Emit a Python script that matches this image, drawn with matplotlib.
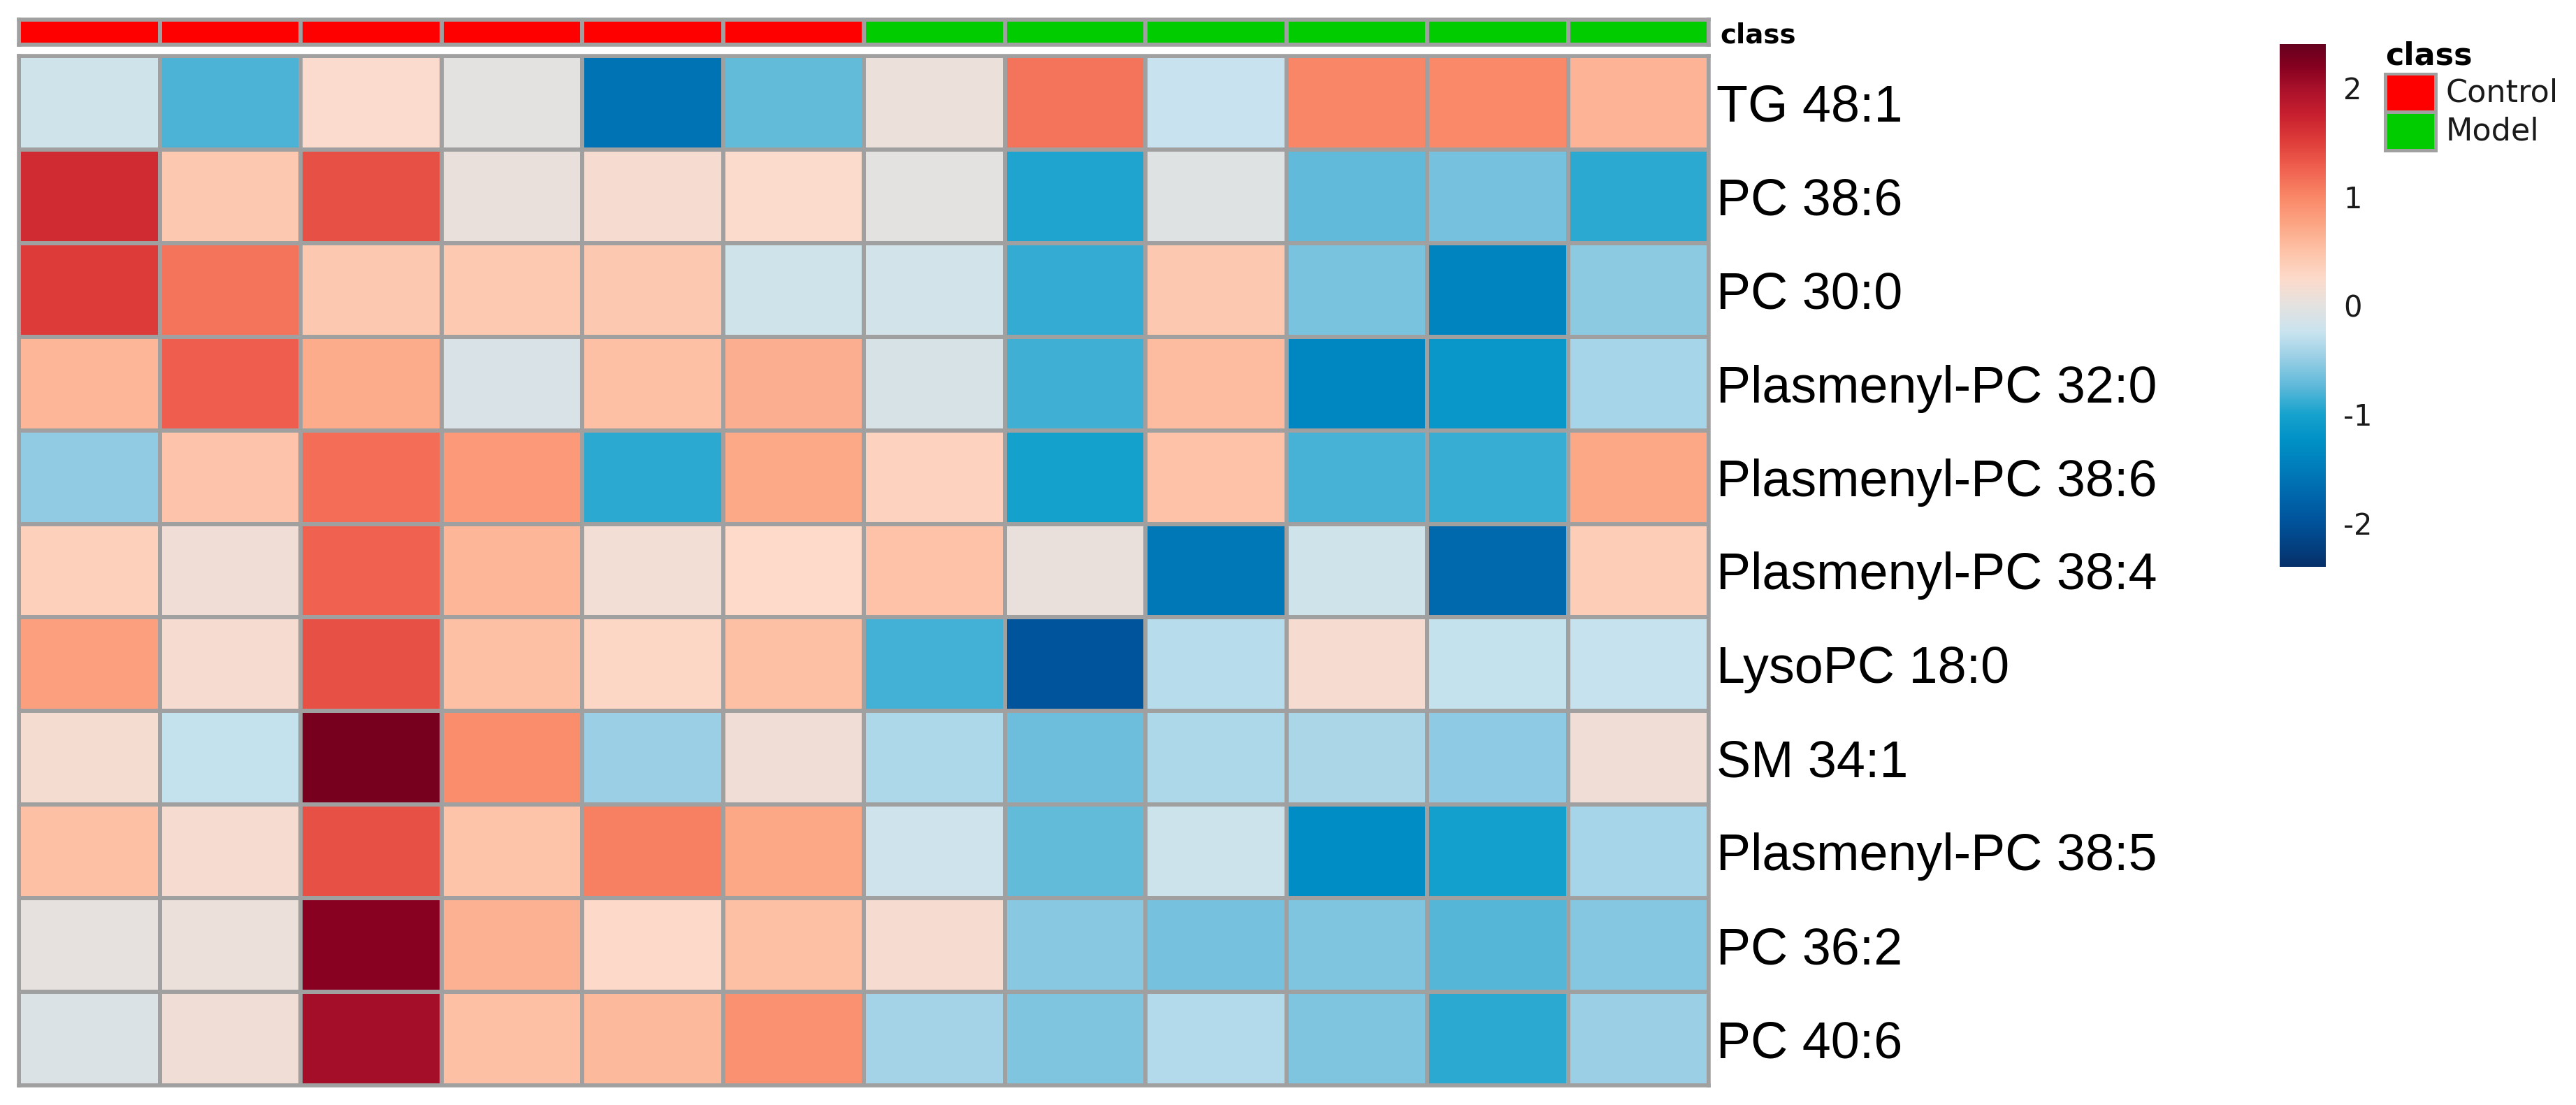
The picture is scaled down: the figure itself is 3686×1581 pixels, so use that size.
import numpy as np
import matplotlib
matplotlib.use("Agg")
import matplotlib.pyplot as plt
from matplotlib.colors import LinearSegmentedColormap, ListedColormap
from matplotlib.patches import Rectangle

plt.rcParams['axes.unicode_minus'] = False

# ---------------- data ----------------
features = ["TG 48:1", "PC 38:6", "PC 30:0", "Plasmenyl-PC 32:0", "Plasmenyl-PC 38:6",
            "Plasmenyl-PC 38:4", "LysoPC 18:0", "SM 34:1", "Plasmenyl-PC 38:5",
            "PC 36:2", "PC 40:6"]
sample_class = ["Control"] * 6 + ["Model"] * 6
class_names = ["Control", "Model"]
class_colors = ["#FF0000", "#00CC00"]

values = np.array([
    [-0.18, -0.80, 0.22, 0.00, -1.60, -0.72, 0.07, 1.13, -0.25, 1.00, 0.98, 0.62],
    [1.65, 0.44, 1.37, 0.06, 0.18, 0.23, 0.00, -0.97, -0.05, -0.73, -0.63, -0.92],
    [1.52, 1.13, 0.44, 0.43, 0.44, -0.18, -0.16, -0.90, 0.44, -0.62, -1.40, -0.54],
    [0.60, 1.28, 0.70, -0.10, 0.52, 0.66, -0.12, -0.85, 0.55, -1.35, -1.15, -0.42],
    [-0.52, 0.47, 1.18, 0.85, -0.92, 0.72, 0.33, -1.02, 0.50, -0.82, -0.88, 0.73],
    [0.35, 0.12, 1.25, 0.60, 0.14, 0.25, 0.50, 0.05, -1.55, -0.18, -1.72, 0.38],
    [0.80, 0.18, 1.37, 0.52, 0.28, 0.52, -0.84, -1.97, -0.33, 0.18, -0.27, -0.26],
    [0.17, -0.27, 2.28, 0.95, -0.47, 0.12, -0.38, -0.68, -0.38, -0.40, -0.53, 0.12],
    [0.52, 0.18, 1.37, 0.48, 1.05, 0.73, -0.19, -0.72, -0.20, -1.30, -1.03, -0.42],
    [0.02, 0.07, 2.18, 0.64, 0.26, 0.52, 0.18, -0.56, -0.63, -0.60, -0.77, -0.57],
    [-0.08, 0.12, 2.02, 0.52, 0.58, 0.90, -0.43, -0.60, -0.35, -0.60, -0.92, -0.47],
])
cbar_ticks = [-2, -1, 0, 1, 2]
vmin, vmax = -2.4, 2.4

# ---------------- colormap ----------------
anchor_vals = [-2.4, -2.0, -1.75, -1.5, -1.25, -1.0, -0.75, -0.5, -0.25, 0.0,
               0.25, 0.5, 0.75, 1.0, 1.25, 1.5, 1.75, 2.0, 2.2, 2.4]
anchor_cols = ["#06306A", "#00529A", "#0066AC", "#007CBA", "#0090C6", "#16A2CD",
               "#5CB8D9", "#95CDE4", "#C8E3EF", "#E4E2E0", "#FDDACA", "#FDC2A7",
               "#FCA584", "#F98767", "#F06250", "#DF3E3A", "#C8202F", "#A8102A",
               "#85001F", "#67001F"]
pos = [(v - vmin) / (vmax - vmin) for v in anchor_vals]
cmap = LinearSegmentedColormap.from_list("hm", list(zip(pos, anchor_cols)), N=512)

grid_col = "#A0A0A0"

W, H = 3686, 1581
fig = plt.figure(figsize=(W / 200, H / 200), dpi=200)

# heatmap
hx0, hx1, hy0, hy1 = 27, 2445, 80, 1553
ax = fig.add_axes([hx0 / W, 1 - hy1 / H, (hx1 - hx0) / W, (hy1 - hy0) / H])
mesh = ax.pcolormesh(values, cmap=cmap, vmin=vmin, vmax=vmax,
                     edgecolors=grid_col, linewidth=1.5)
ax.set_xlim(0, values.shape[1])
ax.set_ylim(values.shape[0], 0)
ax.set_xticks([])
ax.yaxis.tick_right()
ax.set_yticks(np.arange(len(features)) + 0.5)
ax.set_yticklabels(features, fontsize=26.5, family=["Liberation Sans", "DejaVu Sans"])
ax.tick_params(axis='y', length=0, pad=4)
for s in ax.spines.values():
    s.set_color(grid_col)
    s.set_linewidth(2)

# class annotation bar
cy0, cy1 = 28, 64
axc = fig.add_axes([hx0 / W, 1 - cy1 / H, (hx1 - hx0) / W, (cy1 - cy0) / H])
cls_idx = np.array([[class_names.index(c) for c in sample_class]])
axc.pcolormesh(cls_idx, cmap=ListedColormap(class_colors), vmin=-0.5, vmax=1.5,
               edgecolors=grid_col, linewidth=1.5)
axc.set_xlim(0, len(sample_class))
axc.set_ylim(1, 0)
axc.set_xticks([])
axc.yaxis.tick_right()
axc.set_yticks([0.5])
axc.set_yticklabels(["class"], fontsize=14, fontweight="bold", family="DejaVu Sans")
axc.tick_params(axis='y', length=0, pad=6)
for s in axc.spines.values():
    s.set_color(grid_col)
    s.set_linewidth(2)

# colorbar
bx0, bx1, by0, by1 = 3262, 3328, 63, 811
cax = fig.add_axes([bx0 / W, 1 - by1 / H, (bx1 - bx0) / W, (by1 - by0) / H])
cb = fig.colorbar(mesh, cax=cax, ticks=cbar_ticks)
cb.outline.set_visible(False)
cb.ax.set_yticklabels([str(t) for t in cbar_ticks], fontsize=15, family="DejaVu Sans",
                      color="#1a1a1a")
cb.ax.tick_params(length=0, pad=9)

# class legend
axl = fig.add_axes([0, 0, 1, 1])
axl.set_xlim(0, W)
axl.set_ylim(H, 0)
axl.axis("off")
axl.text(3413, 80, "class", fontsize=16, fontweight="bold", family="DejaVu Sans",
         ha="left", va="center")
axl.add_patch(Rectangle((3411, 104), 77, 114, facecolor=grid_col, edgecolor="none"))
box_y = [108, 163]
for yy, col, name in zip(box_y, class_colors, class_names):
    axl.add_patch(Rectangle((3416, yy), 67, 50, facecolor=col, edgecolor="none"))
    axl.text(3500, yy + 25, name, fontsize=16, family="DejaVu Sans", ha="left",
             va="center", color="#1a1a1a")

fig.savefig("out.png", dpi=200, facecolor="white")
